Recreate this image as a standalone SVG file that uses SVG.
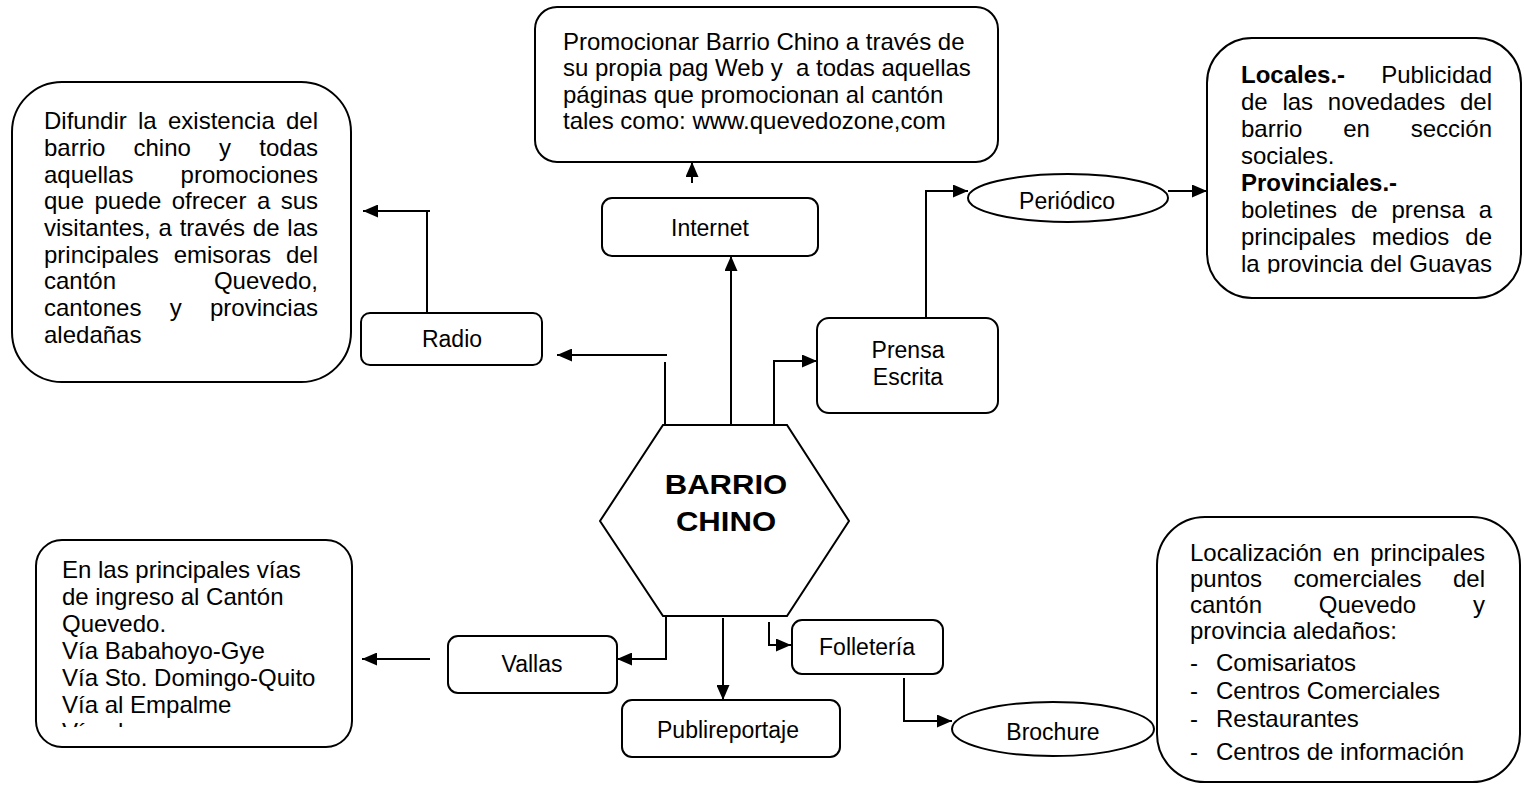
<svg xmlns="http://www.w3.org/2000/svg" width="1524" height="787" viewBox="0 0 1524 787">
<style>
.box{fill:#fff;stroke:#000;stroke-width:2}
.t{font-family:"Liberation Sans",Arial,sans-serif;font-size:24px;fill:#000}
.l{font-size:23px}
.b{font-weight:bold}
.c{text-anchor:middle}
.e{text-anchor:end}
.ln{fill:none;stroke:#000;stroke-width:2}
.ar{marker-end:url(#ah)}
</style>
<defs>
<marker id="ah" markerUnits="userSpaceOnUse" markerWidth="15" markerHeight="13" refX="15" refY="6.5" orient="auto">
<path d="M0,0 L15,6.5 L0,13 Z" fill="#000"/>
</marker>
<clipPath id="clipLoc"><rect x="1210" y="40" width="310" height="233.5"/></clipPath>
<clipPath id="clipVal"><rect x="38" y="542" width="312" height="185"/></clipPath>
</defs>
<rect width="1524" height="787" fill="#fff"/>

<g id="connectors">
<path class="ln" d="M427,314 V211"/>
<path class="ln ar" d="M430,211 H363"/>
<path class="ln" d="M665,425 V362"/>
<path class="ln ar" d="M667,355 H557"/>
<path class="ln ar" d="M731,425 V256"/>
<path class="ln ar" d="M692,183 V162"/>
<path class="ln ar" d="M774,425 V361 H817"/>
<path class="ln ar" d="M926,318 V191 H968"/>
<path class="ln ar" d="M1168,191 H1207"/>
<path class="ln ar" d="M666,616 V659 H617"/>
<path class="ln ar" d="M430,659 H362"/>
<path class="ln ar" d="M723,618 V700"/>
<path class="ln ar" d="M769,622 V645 H791"/>
<path class="ln ar" d="M904,678 V721 H952"/>
</g>

<g id="n-difundir">
<rect class="box" x="12" y="82" width="339" height="300" rx="50"/>
<text class="t" y="129"><tspan x="44">Difundir</tspan><tspan x="138">la</tspan><tspan x="168">existencia</tspan></text>
<text class="t e" x="318" y="129">del</text>
<text class="t" y="156"><tspan x="44">barrio</tspan><tspan x="133.5">chino</tspan><tspan x="219.1">y</tspan></text>
<text class="t e" x="318" y="156">todas</text>
<text class="t" x="44" y="183">aquellas</text>
<text class="t e" x="318" y="183">promociones</text>
<text class="t" y="209"><tspan x="44">que</tspan><tspan x="94.5">puede</tspan><tspan x="171.7">ofrecer</tspan><tspan x="256.9">a</tspan></text>
<text class="t e" x="318" y="209">sus</text>
<text class="t" y="236"><tspan x="44">visitantes,</tspan><tspan x="158.5">a</tspan><tspan x="179.7">través</tspan><tspan x="252.8">de</tspan></text>
<text class="t e" x="318" y="236">las</text>
<text class="t" y="263"><tspan x="44">principales</tspan><tspan x="173.7">emisoras</tspan></text>
<text class="t e" x="318" y="263">del</text>
<text class="t" x="44" y="289">cantón</text>
<text class="t e" x="318" y="289">Quevedo,</text>
<text class="t" y="316"><tspan x="44">cantones</tspan><tspan x="169.7">y</tspan></text>
<text class="t e" x="318" y="316">provincias</text>
<text class="t" x="44" y="343">aledañas</text>
</g>

<g id="n-radio">
<rect class="box" x="361" y="313" width="181" height="52" rx="9"/>
<text class="t l c" x="452" y="347">Radio</text>
</g>

<g id="n-promocionar">
<rect class="box" x="535" y="7" width="463" height="155" rx="22"/>
<text class="t" x="563" y="50">Promocionar Barrio Chino a través de</text>
<text class="t" x="563" y="76" xml:space="preserve">su propia pag Web y  a todas aquellas</text>
<text class="t" x="563" y="102.5">páginas que promocionan al cantón</text>
<text class="t" x="563" y="129">tales como: www.quevedozone,com</text>
</g>

<g id="n-internet">
<rect class="box" x="602" y="198" width="216" height="58" rx="10"/>
<text class="t l c" x="710" y="236">Internet</text>
</g>

<g id="n-prensa">
<rect class="box" x="817" y="318" width="181" height="95" rx="12"/>
<text class="t l c" x="908" y="358">Prensa</text>
<text class="t l c" x="908" y="385">Escrita</text>
</g>

<g id="n-periodico">
<ellipse class="box" cx="1068" cy="198" rx="100" ry="24"/>
<text class="t l c" x="1067" y="209">Periódico</text>
</g>

<g id="n-locales">
<rect class="box" x="1207" y="38" width="314" height="260" rx="45"/>
<g clip-path="url(#clipLoc)">
<text class="t b" x="1241" y="83">Locales.-</text>
<text class="t e" x="1492" y="83">Publicidad</text>
<text class="t" y="110"><tspan x="1241">de</tspan><tspan x="1282.4">las</tspan><tspan x="1327.8">novedades</tspan></text>
<text class="t e" x="1492" y="110">del</text>
<text class="t" y="137"><tspan x="1241">barrio</tspan><tspan x="1343.2">en</tspan></text>
<text class="t e" x="1492" y="137">sección</text>
<text class="t" x="1241" y="164">sociales.</text>
<text class="t b" x="1241" y="191">Provinciales.-</text>
<text class="t" y="218"><tspan x="1241">boletines</tspan><tspan x="1350.9">de</tspan><tspan x="1391.4">prensa</tspan></text>
<text class="t e" x="1492" y="218">a</text>
<text class="t" y="245"><tspan x="1241">principales</tspan><tspan x="1371.8">medios</tspan></text>
<text class="t e" x="1492" y="245">de</text>
<text class="t" y="272"><tspan x="1241">la</tspan><tspan x="1266.9">provincia</tspan><tspan x="1370.1">del</tspan></text>
<text class="t e" x="1492" y="272">Guayas</text>
</g>
</g>

<g id="n-barrio-chino">
<polygon class="box" points="663,425 787,425 849,521 787,616 663,616 600,521"/>
<g transform="translate(726,0) scale(1.11,1)">
<text class="t b c" x="0" y="494" style="font-size:28px">BARRIO</text>
<text class="t b c" x="0" y="531" style="font-size:28px">CHINO</text>
</g>
</g>

<g id="n-vias">
<rect class="box" x="36" y="540" width="316" height="207" rx="26"/>
<g clip-path="url(#clipVal)">
<text class="t" x="62" y="578">En las principales vías</text>
<text class="t" x="62" y="605">de ingreso al Cantón</text>
<text class="t" x="62" y="632">Quevedo.</text>
<text class="t" x="62" y="659">Vía Babahoyo-Gye</text>
<text class="t" x="62" y="686">Vía Sto. Domingo-Quito</text>
<text class="t" x="62" y="713">Vía al Empalme</text>
<text class="t" x="62" y="740">Vía al</text>
</g>
</g>

<g id="n-vallas">
<rect class="box" x="448" y="636" width="169" height="57" rx="10"/>
<text class="t l c" x="532" y="672">Vallas</text>
</g>

<g id="n-publireportaje">
<rect class="box" x="622" y="700" width="218" height="57" rx="10"/>
<text class="t l c" x="728" y="738">Publireportaje</text>
</g>

<g id="n-folleteria">
<rect class="box" x="792" y="620" width="151" height="54" rx="10"/>
<text class="t l c" x="867" y="655">Folletería</text>
</g>

<g id="n-brochure">
<ellipse class="box" cx="1053" cy="729" rx="101" ry="27"/>
<text class="t l c" x="1053" y="740">Brochure</text>
</g>

<g id="n-localizacion">
<rect class="box" x="1157" y="517" width="363" height="265" rx="48"/>
<text class="t" y="561"><tspan x="1190">Localización</tspan><tspan x="1332.8">en</tspan></text>
<text class="t e" x="1485" y="561">principales</text>
<text class="t" y="587"><tspan x="1190">puntos</tspan><tspan x="1293.5">comerciales</tspan></text>
<text class="t e" x="1485" y="587">del</text>
<text class="t" y="613"><tspan x="1190">cantón</tspan><tspan x="1318.8">Quevedo</tspan></text>
<text class="t e" x="1485" y="613">y</text>
<text class="t" x="1190" y="639">provincia aledaños:</text>
<text class="t" x="1190" y="671">-</text><text class="t" x="1216" y="671">Comisariatos</text>
<text class="t" x="1190" y="699">-</text><text class="t" x="1216" y="699">Centros Comerciales</text>
<text class="t" x="1190" y="727">-</text><text class="t" x="1216" y="727">Restaurantes</text>
<text class="t" x="1190" y="760">-</text><text class="t" x="1216" y="760">Centros de información</text>
</g>
</svg>
